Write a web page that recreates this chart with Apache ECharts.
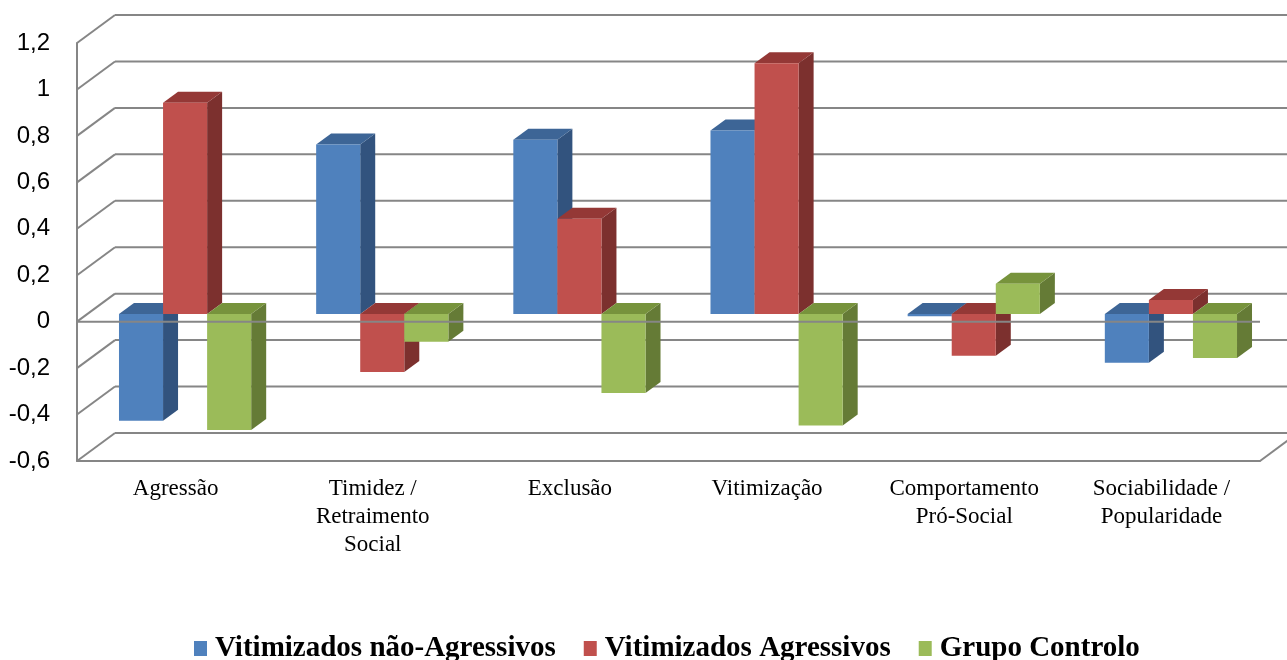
<!DOCTYPE html>
<html>
<head>
<meta charset="utf-8">
<script src="https://cdn.jsdelivr.net/npm/echarts@6/dist/echarts.min.js"></script>
<style>
  html, body { margin: 0; padding: 0; background: #fff; }
  #chart { width: 1287px; height: 660px; }
</style>
</head>
<body>
<div id="chart"></div>
<script>
const categories = [
  'Agressão',
  'Timidez /\nRetraimento\nSocial',
  'Exclusão',
  'Vitimização',
  'Comportamento\nPró-Social',
  'Sociabilidade /\nPopularidade',
];
const naoAgressivos = [-0.46, 0.73, 0.75, 0.79, -0.01, -0.21];
const agressivos = [0.91, -0.25, 0.41, 1.08, -0.18, 0.06];
const controlo = [-0.5, -0.12, -0.34, -0.48, 0.13, -0.19];

const yMin = -0.6;
const yMax = 1.2;
const yStep = 0.2;

// oblique projection: full depth of the box, bar front plane, bar thickness
const DEPTH = [38, -28];
const FRONT = [9.5, -7.7];
const BAR_DEPTH = [15, -11];
const GRID_COLOR = '#868686';

const palette = {
  blue: { front: '#4F81BD', top: '#3D6596', side: '#32537E' },
  red: { front: '#C0504D', top: '#943836', side: '#7C302E' },
  green: { front: '#9BBB59', top: '#77933C', side: '#657B36' },
};

const ticks = [];
for (let k = 0; yMin + k * yStep <= yMax + 1e-9; k++) {
  ticks.push([0, Math.round((yMin + k * yStep) * 10) / 10]);
}

const barSeries = (name, values, slot, col) => ({
  name: name,
  type: 'custom',
  z: 3,
  itemStyle: { color: col.front },
  data: values.map((v, i) => [i, v]),
  encode: { x: 0, y: 1 },
  renderItem: (params, api) => {
    const i = api.value(0);
    const v = api.value(1);
    const band = api.size([1, 0])[0];
    const w = band * 0.2235;
    const base = api.coord([i, 0]);
    const tip = api.coord([i, v]);
    const x0 = base[0] - 1.5 * w + slot * w + FRONT[0];
    const x1 = x0 + w;
    const yz = base[1] + FRONT[1];
    const yv = tip[1] + FRONT[1];
    const yT = Math.min(yz, yv);
    const yB = Math.max(yz, yv);
    const dx = BAR_DEPTH[0];
    const dy = BAR_DEPTH[1];
    return {
      type: 'group',
      children: [
        {
          type: 'polygon',
          shape: { points: [[x1, yT], [x1 + dx, yT + dy], [x1 + dx, yB + dy], [x1, yB]] },
          style: { fill: col.side },
        },
        {
          type: 'polygon',
          shape: { points: [[x0, yT], [x0 + dx, yT + dy], [x1 + dx, yT + dy], [x1, yT]] },
          style: { fill: col.top },
        },
        {
          type: 'rect',
          shape: { x: x0, y: yT, width: w, height: yB - yT },
          style: { fill: col.front },
        },
      ],
    };
  },
});

const myChart = echarts.init(document.getElementById('chart'), null, { renderer: 'canvas' });

const option = {
  backgroundColor: '#fff',
  animation: false,
  grid: { left: 77, right: 27, top: 43, bottom: 199 },
  legend: {
    data: ['Vitimizados não-Agressivos', 'Vitimizados Agressivos', 'Grupo Controlo'],
    left: 189,
    top: 629,
    icon: 'rect',
    itemWidth: 13,
    itemHeight: 15,
    itemGap: 28,
    textStyle: {
      fontFamily: 'Liberation Serif',
      fontWeight: 'bold',
      fontSize: 29,
      color: '#000',
      padding: [0, 0, 0, 3],
    },
  },
  xAxis: {
    type: 'category',
    data: categories,
    axisLine: { onZero: false, lineStyle: { color: GRID_COLOR, width: 2 } },
    axisTick: { show: false },
    axisLabel: {
      interval: 0,
      margin: 14,
      fontFamily: 'Liberation Serif',
      fontSize: 23,
      lineHeight: 28,
      color: '#000',
    },
  },
  yAxis: {
    type: 'value',
    min: yMin,
    max: yMax,
    interval: yStep,
    axisLine: { show: true, lineStyle: { color: GRID_COLOR, width: 2 } },
    axisTick: { show: false },
    splitLine: { show: false },
    axisLabel: {
      margin: 27,
      fontFamily: 'Liberation Sans',
      fontSize: 24,
      color: '#000',
      formatter: (v) => String(Math.round(v * 10) / 10).replace('.', ','),
    },
  },
  series: [
    {
      name: 'frame',
      type: 'custom',
      z: 1,
      silent: true,
      data: ticks,
      encode: { x: 0, y: 1 },
      renderItem: (params, api) => {
        const v = api.value(1);
        const band = api.size([1, 0])[0];
        const p = api.coord([0, v]);
        const xl = p[0] - band / 2;
        const xr = api.coord([categories.length - 1, v])[0] + band / 2;
        const y = p[1];
        const line = (a, b) => ({
          type: 'line',
          shape: { x1: a[0], y1: a[1], x2: b[0], y2: b[1] },
          style: { stroke: GRID_COLOR, lineWidth: 2 },
        });
        const children = [
          line([xl, y], [xl + DEPTH[0], y + DEPTH[1]]),
          line([xl + DEPTH[0], y + DEPTH[1]], [xr + DEPTH[0], y + DEPTH[1]]),
        ];
        if (Math.abs(v - yMin) < 1e-9) {
          children.push(line([xr, y], [xr + DEPTH[0], y + DEPTH[1]]));
        }
        return { type: 'group', children: children };
      },
    },
    barSeries('Vitimizados não-Agressivos', naoAgressivos, 0, palette.blue),
    barSeries('Vitimizados Agressivos', agressivos, 1, palette.red),
    barSeries('Grupo Controlo', controlo, 2, palette.green),
    {
      name: 'zero',
      type: 'custom',
      z: 5,
      silent: true,
      data: [[0, 0]],
      encode: { x: 0, y: 1 },
      renderItem: (params, api) => {
        const band = api.size([1, 0])[0];
        const p = api.coord([0, 0]);
        const xr = api.coord([categories.length - 1, 0])[0] + band / 2;
        return {
          type: 'line',
          shape: { x1: p[0] - band / 2, y1: p[1], x2: xr, y2: p[1] },
          style: { stroke: GRID_COLOR, lineWidth: 2 },
        };
      },
    },
  ],
};

myChart.setOption(option);
window.addEventListener('resize', () => {
  myChart.resize();
});
</script>
</body>
</html>
